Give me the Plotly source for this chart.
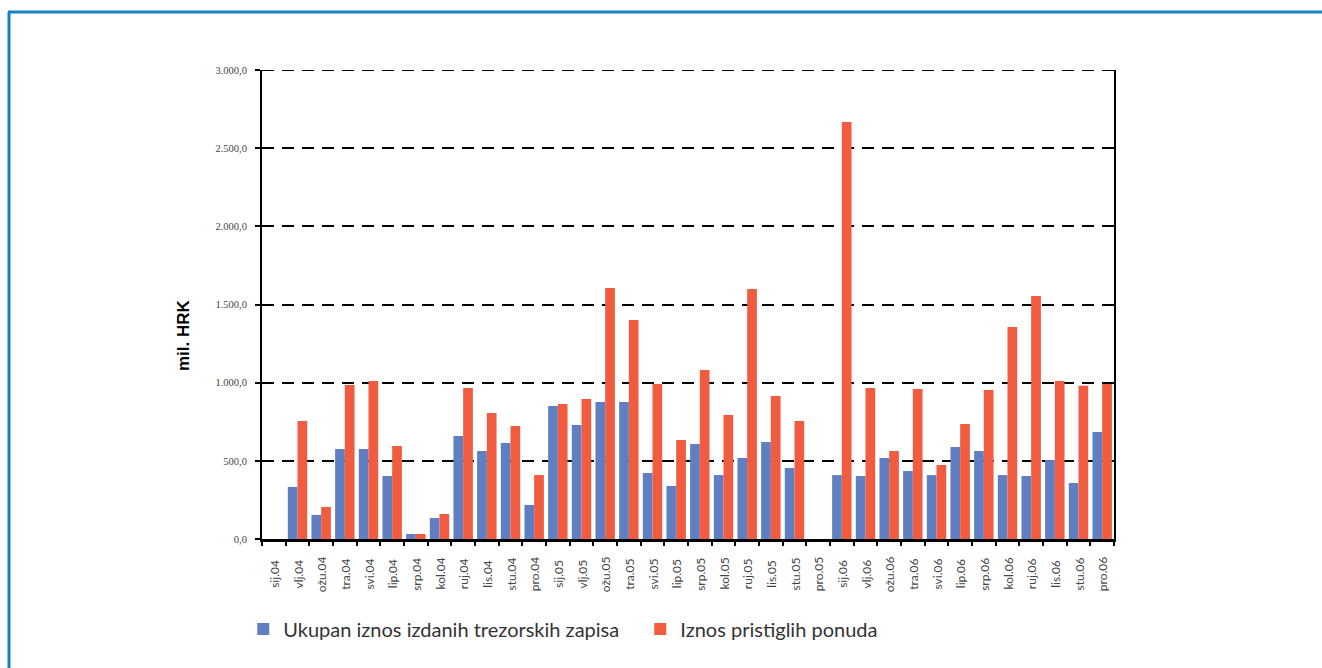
import plotly.graph_objects as go


####################################################
# PODACI
####################################################

mjeseci = [
    "sij.04", "vlj.04", "ožu.04", "tra.04", "svi.04", "lip.04",
    "srp.04", "kol.04", "ruj.04", "lis.04", "stu.04", "pro.04",
    "sij.05", "vlj.05", "ožu.05", "tra.05", "svi.05", "lip.05",
    "srp.05", "kol.05", "ruj.05", "lis.05", "stu.05", "pro.05",
    "sij.06", "vlj.06", "ožu.06", "tra.06", "svi.06", "lip.06",
    "srp.06", "kol.06", "ruj.06", "lis.06", "stu.06", "pro.06"
]

izdani = [
    0, 333, 154, 576, 576, 403, 32, 134, 659, 563, 614, 218,
    851, 729, 876, 876, 422, 339, 608, 409, 518, 621, 454, 0,
    409, 403, 518, 435, 409, 589, 563, 409, 403, 505, 358, 684
]

ponude = [
    0, 755, 205, 985, 1010, 595, 32, 160, 966, 806, 723, 409,
    864, 896, 1606, 1401, 992, 633, 1081, 793, 1599, 915, 755, 0,
    2668, 966, 563, 960, 473, 736, 953, 1356, 1554, 1010, 980, 992
]

y_tickovi = [0, 500, 1000, 1500, 2000, 2500, 3000]


####################################################
# GRAFIKON
####################################################

fig = go.Figure()

fig.add_trace(go.Bar(
    x=mjeseci,
    y=izdani,
    name="Ukupan iznos izdanih trezorskih zapisa",
    marker=dict(color="#5f7fc2", line=dict(width=0))
))

fig.add_trace(go.Bar(
    x=mjeseci,
    y=ponude,
    name="Iznos pristiglih ponuda",
    marker=dict(color="#f15b40", line=dict(width=0))
))

# oznake mjeseci (centrirane, okomite)
oznake = [
    dict(text=m, x=m, xref="x", yref="paper", y=-35 / 469,
         textangle=-90, showarrow=False, xanchor="center", yanchor="middle",
         font=dict(family="Lato", size=12, color="#444444"))
    for m in mjeseci
]

fig.update_layout(
    width=1322,
    height=668,
    barmode="group",
    bargap=0.18,
    bargroupgap=0,
    separators=",.",
    plot_bgcolor="white",
    paper_bgcolor="white",
    margin=dict(l=262, r=208, t=70, b=129),
    legend=dict(
        orientation="h",
        x=-0.022,
        xanchor="left",
        y=-0.192,
        yanchor="middle",
        font=dict(family="Lato", size=20, color="#333333"),
        itemwidth=30,
        entrywidth=352,
        traceorder="normal"
    ),
    shapes=[
        # plavi okvir
        dict(type="line", xref="paper", yref="paper",
             x0=-254 / 852, x1=1060 / 852, y0=(539 - 12) / 469, y1=(539 - 12) / 469,
             line=dict(color="#1681c4", width=3)),
        dict(type="line", xref="paper", yref="paper",
             x0=-253 / 852, x1=-253 / 852, y0=(539 - 12) / 469, y1=-140 / 469,
             line=dict(color="#1681c4", width=3)),
        # gornja crtkana linija mreže
        dict(type="line", xref="paper", yref="y",
             x0=0, x1=1, y0=y_tickovi[-1], y1=y_tickovi[-1],
             line=dict(color="black", width=2, dash="12px,8px")),
    ],
    annotations=[
        dict(text="<b>mil. HRK</b>", xref="paper", yref="paper",
             x=-78 / 852, y=(539 - 335) / 469, textangle=-90, showarrow=False,
             xanchor="center", yanchor="middle",
             font=dict(family="Liberation Sans", size=17, color="black"))
    ] + oznake
)

fig.update_xaxes(
    type="category",
    showticklabels=False,
    tickson="boundaries",
    ticks="outside",
    ticklen=4,
    tickwidth=2,
    tickcolor="black",
    showline=True,
    linecolor="black",
    linewidth=3,
    showgrid=False
)

fig.update_yaxes(
    range=[0, 3000],
    tickvals=y_tickovi,
    tickformat=",.1f",
    ticks="outside",
    ticklen=5,
    tickwidth=2,
    tickcolor="black",
    ticklabelstandoff=6,
    showline=True,
    mirror=True,
    linecolor="black",
    linewidth=2,
    showgrid=True,
    gridcolor="black",
    gridwidth=2,
    griddash="12px,8px",
    zeroline=False,
    tickfont=dict(family="Liberation Serif", size=10.5, color="#444444")
)

fig.write_html(
    "out.html",
    config={"displayModeBar": False},
    post_script="document.body.style.margin='0';"
)
